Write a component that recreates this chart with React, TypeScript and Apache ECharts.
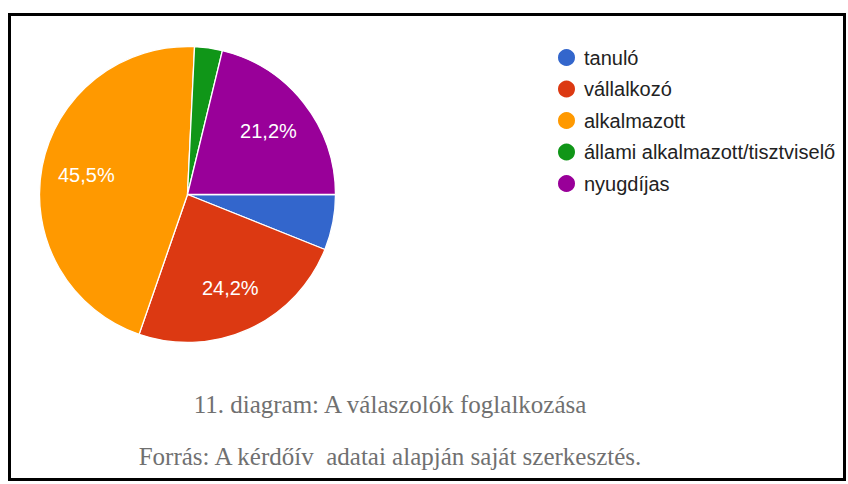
import React, { useEffect, useRef } from "react";
import * as echarts from "echarts";

const categories = ["tanuló", "vállalkozó", "alkalmazott", "állami alkalmazott/tisztviselő", "nyugdíjas"];
const counts = [2, 8, 15, 1, 7];
const colors = ["#3366cc", "#dc3912", "#ff9900", "#109618", "#990099"];
const shownLabels = [false, true, true, false, true];
const captionLines = [
  "11. diagram: A válaszolók foglalkozása",
  "Forrás: A kérdőív  adatai alapján saját szerkesztés.",
];

export default function App() {
  const ref = useRef<HTMLDivElement>(null);
  useEffect(() => {
    if (!ref.current) return;
    const chart = echarts.init(ref.current, null, { renderer: "svg" });
    const total = counts.reduce((a, b) => a + b, 0);
    const baseData = categories.map((name, i) => ({
      name,
      value: counts[i],
      itemStyle: { color: colors[i] },
    }));
    const labelData = categories.map((name, i) => ({
      name,
      value: counts[i],
      itemStyle: { color: "transparent", borderWidth: 0 },
      label: { show: shownLabels[i] },
    }));
    chart.setOption({
      animation: false,
      backgroundColor: "#ffffff",
      color: colors,
      legend: {
        orient: "vertical",
        left: 551,
        top: 42,
        padding: 5,
        icon: "circle",
        itemWidth: 19,
        itemHeight: 19,
        itemGap: 10.5,
        data: categories,
        textStyle: {
          fontFamily: "Liberation Sans, Arial, sans-serif",
          fontSize: 20,
          lineHeight: 19,
          color: "#222222",
          padding: [0, 0, 0, 3],
        },
      },
      series: [
        {
          type: "pie",
          center: [187.5, 194.5],
          radius: [0, 148],
          startAngle: 0,
          clockwise: true,
          label: { show: false },
          labelLine: { show: false },
          itemStyle: { borderColor: "#ffffff", borderWidth: 1.3 },
          emphasis: { disabled: true },
          data: baseData,
        },
        {
          type: "pie",
          center: [187.5, 194.5],
          radius: [52, 148],
          startAngle: 0,
          clockwise: true,
          silent: true,
          legendHoverLink: false,
          label: {
            show: true,
            position: "inside",
            color: "#ffffff",
            fontSize: 20,
            fontFamily: "Liberation Sans, Arial, sans-serif",
            formatter: (p: any) => ((p.value / total) * 100).toFixed(1).replace(".", ",") + "%",
          },
          labelLine: { show: false },
          emphasis: { disabled: true },
          data: labelData,
        },
      ],
      graphic: [
        {
          type: "rect",
          shape: { x: 9.5, y: 14.5, width: 835, height: 465 },
          style: { fill: "none", stroke: "#000000", lineWidth: 3 },
          silent: true,
        },
        ...captionLines.map((t, i) => ({
          type: "text",
          x: 390,
          y: i === 0 ? 404 : 456,
          style: {
            text: t,
            fill: "#707070",
            font: "25px 'Liberation Serif', 'Times New Roman', serif",
            textAlign: "center",
            textVerticalAlign: "middle",
          },
          silent: true,
        })),
      ],
    });
    return () => chart.dispose();
  }, []);
  return (
    <div
      ref={ref}
      style={{ position: "absolute", left: 0, top: 0, width: 848, height: 484 }}
    />
  );
}
